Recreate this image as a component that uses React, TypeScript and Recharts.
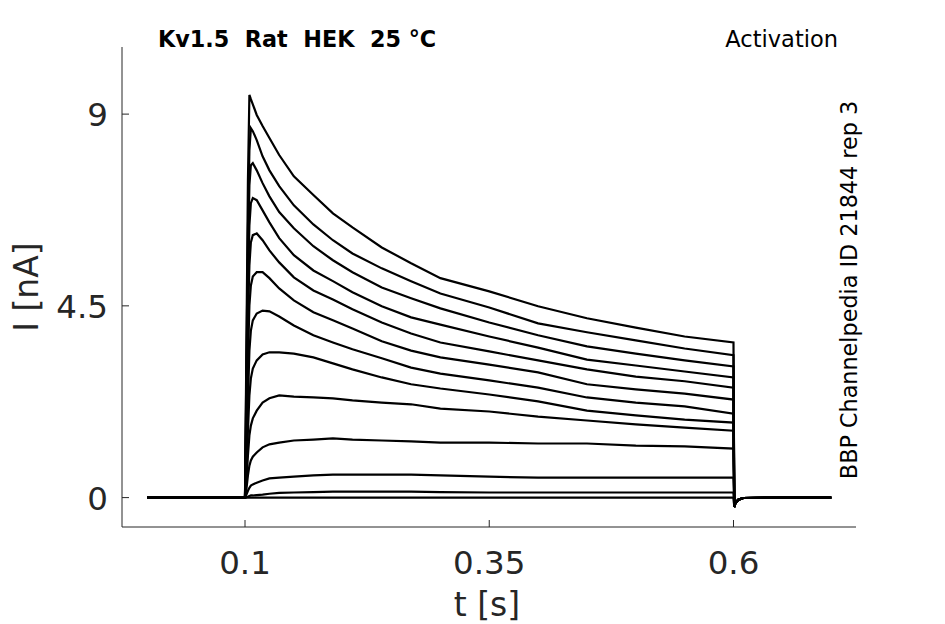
import React from 'react';
import { LineChart, Line, XAxis, YAxis } from 'recharts';

// sample times [s]: holding, pulse (0.1 .. 0.6), tail
const time = [
  0, 0.1,
  0.1015, 0.103, 0.1045, 0.106, 0.108, 0.112, 0.118, 0.125, 0.135, 0.15, 0.17,
  0.19, 0.21, 0.24, 0.27, 0.3, 0.35, 0.4, 0.45, 0.5, 0.55, 0.6,
  0.6008, 0.602, 0.605, 0.61, 0.7,
];

const holding = [0, 0];
const tail = [-0.22, -0.12, -0.05, -0.01, 0];

// current [nA] during the pulse, one array per voltage step
const trace01 = [3.69, 7.45, 9.45, 9.35, 9.23, 8.98, 8.72, 8.44, 8.04, 7.54, 7.10, 6.67, 6.34, 5.87, 5.50, 5.15, 4.84, 4.49, 4.21, 3.99, 3.78, 3.64];
const trace02 = [3.22, 6.27, 8.15, 8.67, 8.60, 8.39, 8.01, 7.68, 7.31, 6.86, 6.41, 6.04, 5.73, 5.38, 5.08, 4.79, 4.46, 4.09, 3.88, 3.69, 3.50, 3.34];
const trace03 = [2.75, 5.57, 7.33, 7.80, 7.85, 7.68, 7.38, 7.07, 6.70, 6.32, 5.90, 5.57, 5.29, 4.93, 4.68, 4.44, 4.11, 3.81, 3.55, 3.38, 3.22, 3.08];
const trace04 = [2.28, 4.86, 6.39, 6.91, 7.03, 6.98, 6.74, 6.46, 6.09, 5.69, 5.33, 5.08, 4.82, 4.49, 4.23, 4.06, 3.78, 3.52, 3.24, 3.10, 2.96, 2.82];
const trace05 = [1.81, 4.16, 5.45, 5.99, 6.16, 6.20, 6.04, 5.80, 5.52, 5.17, 4.86, 4.65, 4.42, 4.11, 3.85, 3.64, 3.43, 3.22, 3.01, 2.84, 2.73, 2.58];
const trace06 = [1.34, 3.22, 4.51, 4.98, 5.19, 5.29, 5.29, 5.15, 4.91, 4.63, 4.35, 4.16, 3.97, 3.67, 3.45, 3.29, 3.12, 2.94, 2.66, 2.54, 2.44, 2.30];
const trace07 = [0.99, 2.28, 3.45, 3.92, 4.16, 4.32, 4.39, 4.37, 4.25, 4.04, 3.81, 3.64, 3.48, 3.27, 3.05, 2.91, 2.75, 2.58, 2.35, 2.23, 2.14, 1.97];
const trace08 = [0.63, 1.57, 2.40, 2.80, 3.03, 3.22, 3.36, 3.41, 3.41, 3.38, 3.29, 3.15, 3.01, 2.82, 2.66, 2.56, 2.42, 2.26, 2.04, 1.93, 1.83, 1.76];
const trace09 = [0.40, 0.99, 1.46, 1.69, 1.86, 2.04, 2.23, 2.33, 2.40, 2.37, 2.35, 2.33, 2.28, 2.23, 2.19, 2.09, 2.02, 1.90, 1.81, 1.72, 1.64, 1.57];
const trace10 = [0.21, 0.52, 0.75, 0.87, 0.96, 1.06, 1.18, 1.25, 1.29, 1.34, 1.36, 1.39, 1.36, 1.34, 1.32, 1.29, 1.29, 1.27, 1.27, 1.22, 1.20, 1.15];
const trace11 = [0.07, 0.16, 0.23, 0.28, 0.31, 0.35, 0.40, 0.45, 0.47, 0.49, 0.52, 0.54, 0.54, 0.54, 0.54, 0.52, 0.49, 0.47, 0.47, 0.47, 0.47, 0.47];
const trace12 = [0.01, 0.02, 0.04, 0.05, 0.05, 0.06, 0.07, 0.09, 0.11, 0.12, 0.13, 0.14, 0.14, 0.14, 0.14, 0.13, 0.12, 0.12, 0.12, 0.12, 0.12, 0.12];
const trace13 = [0, 0, 0, 0, 0, 0, 0, 0, 0, 0, 0, 0, 0, 0, 0, 0, 0, 0, 0, 0, 0, 0];

const xTicks = [0.1, 0.35, 0.6];
const yTicks = [0, 4.5, 9];

const traces = [trace01, trace02, trace03, trace04, trace05, trace06, trace07,
  trace08, trace09, trace10, trace11, trace12, trace13];

const rows = time.map((t, i) => {
  const row: Record<string, number> = { t };
  traces.forEach((tr, k) => {
    const full = [...holding, ...tr, ...tail];
    row['s' + k] = full[i];
  });
  return row;
});

const FONT = '"DejaVu Sans", sans-serif';
const AX = '#262626';

const XTick = (props: any) => {
  const { x, y, payload } = props;
  return (
    <g>
      <line x1={x} x2={x} y1={y} y2={y - 7} stroke={AX} strokeWidth={1} />
      <text x={x} y={y + 47} textAnchor="middle" fontSize={32.5} fill={AX} fontFamily={FONT}>
        {payload.value}
      </text>
    </g>
  );
};

const YTick = (props: any) => {
  const { x, y, payload } = props;
  return (
    <g>
      <line x1={x} x2={x + 7} y1={y} y2={y} stroke={AX} strokeWidth={1} />
      <text x={x - 14} y={y + 12} textAnchor="end" fontSize={32.5} fill={AX} fontFamily={FONT}>
        {payload.value}
      </text>
    </g>
  );
};

export default function App() {
  return (
    <div style={{ position: 'absolute', left: 0, top: 0, width: 945, height: 624, background: '#fff' }}>
      <LineChart width={945} height={624} data={rows}
        margin={{ top: 47, right: 89, bottom: 37, left: 62 }}>
        <XAxis type="number" dataKey="t" domain={[-0.0259, 0.7254]} ticks={xTicks}
          allowDataOverflow interval={0} height={60} tickSize={0} tickMargin={0}
          tickLine={false} stroke={AX} tick={<XTick />} />
        <YAxis type="number" domain={[-0.69, 10.575]} ticks={yTicks}
          allowDataOverflow interval={0} width={60} tickSize={0} tickMargin={0}
          tickLine={false} stroke={AX} tick={<YTick />} />
        {traces.map((_, k) => (
          <Line key={k} type="linear" dataKey={'s' + k} stroke="#000" strokeWidth={2.2}
            dot={false} isAnimationActive={false} />
        ))}
      </LineChart>
      <svg width={945} height={624} style={{ position: 'absolute', left: 0, top: 0, pointerEvents: 'none' }}>
        <text x={158} y={47} fontSize={22.3} fontWeight="bold" fill="#000" fontFamily={FONT}
          style={{ whiteSpace: 'pre' }}>{'Kv1.5  Rat  HEK  25 °C'}</text>
        <text x={838} y={47} fontSize={22.5} textAnchor="end" fill="#000" fontFamily={FONT}>Activation</text>
        <text transform="translate(857,290) rotate(-90)" fontSize={22.3} textAnchor="middle" fill="#000"
          fontFamily={FONT}>BBP Channelpedia ID 21844 rep 3</text>
        <text transform="translate(38,287) rotate(-90)" fontSize={33} textAnchor="middle" fill={AX}
          fontFamily={FONT}>I [nA]</text>
        <text x={487} y={616} fontSize={33} textAnchor="middle" fill={AX} fontFamily={FONT}>t [s]</text>
      </svg>
    </div>
  );
}
